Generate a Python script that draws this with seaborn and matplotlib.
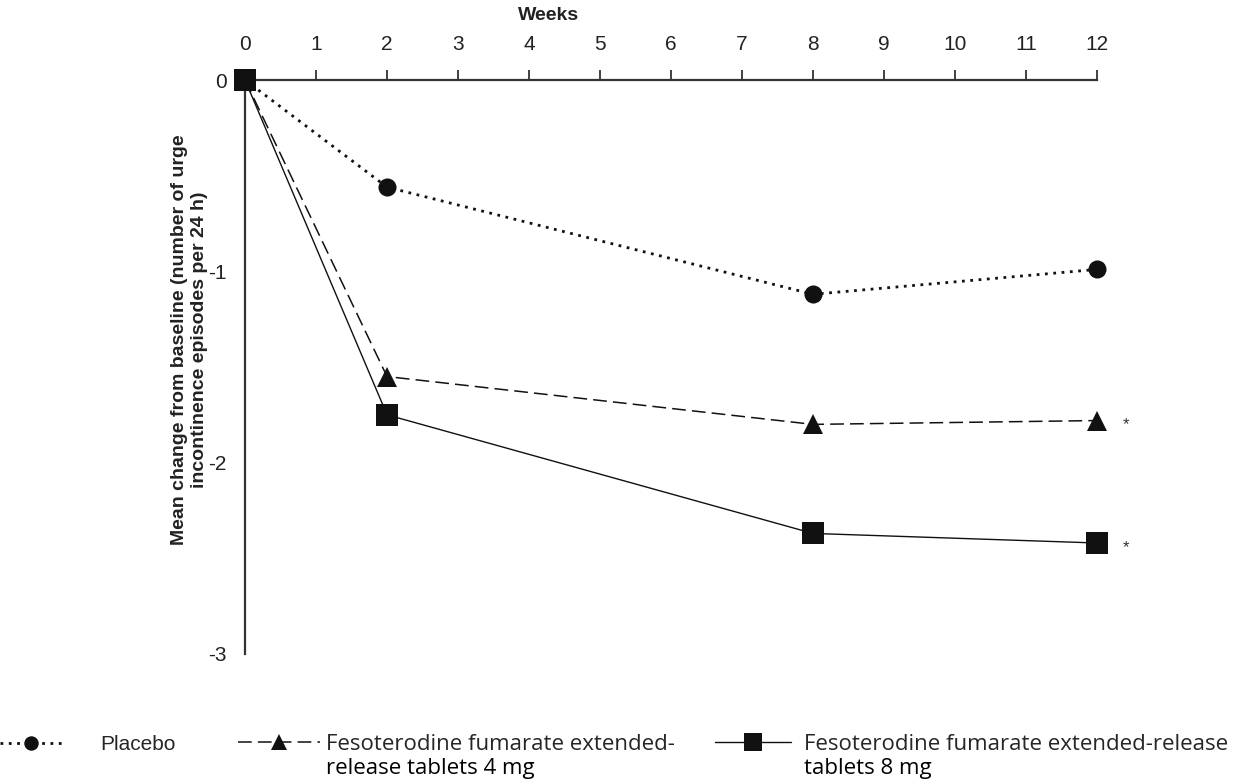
import pandas as pd
import matplotlib.pyplot as plt
import seaborn as sns

weeks = [0, 2, 8, 12]
placebo = [0, -0.56, -1.12, -0.99]
feso_4mg = [0, -1.55, -1.80, -1.78]
feso_8mg = [0, -1.75, -2.37, -2.42]

groups = ['Placebo', 'Fesoterodine 4 mg', 'Fesoterodine 8 mg']
legend_lines = [
    ('Placebo', ''),
    ('Fesoterodine fumarate extended-', 'release tablets 4 mg'),
    ('Fesoterodine fumarate extended-release', 'tablets 8 mg'),
]
signif = ['', '*', '*']

df = pd.DataFrame({
    'Weeks': weeks * 3,
    'Change': placebo + feso_4mg + feso_8mg,
    'Group': [g for g in groups for _ in weeks],
})

sns.set_theme(style="white")
plt.rcParams['font.family'] = ['Liberation Sans', 'DejaVu Sans']

styles = {
    'Placebo': dict(marker='o', markersize=13, linestyle=(0, (1, 2)), linewidth=2.0, color='#111111'),
    'Fesoterodine 4 mg': dict(marker='^', markersize=14, linestyle=(0, (9, 4)), linewidth=1.1, color='#111111'),
    'Fesoterodine 8 mg': dict(marker='s', markersize=16, linestyle='-', linewidth=1.0, color='#111111'),
}

fig = plt.figure(figsize=(12.4, 7.79), dpi=100)
ax = fig.add_axes([0.1976, 0.1605, 0.6871, 0.7368])

for g in groups:
    sub = df[df['Group'] == g]
    sns.lineplot(data=sub, x='Weeks', y='Change', ax=ax, legend=False,
                 markeredgewidth=0, clip_on=False, zorder=3, **styles[g])

ax.set_xlim(0, 12)
ax.set_ylim(-3, 0)
ax.xaxis.tick_top()
ax.xaxis.set_label_position('top')
ax.set_xticks(range(0, 13))
ax.set_yticks([0, -1, -2, -3])
ax.set_yticklabels(['0', '-1', '-2', '-3'])

for s in ['right', 'bottom']:
    ax.spines[s].set_visible(False)
for s in ['top', 'left']:
    ax.spines[s].set_linewidth(1.6)
    ax.spines[s].set_color('#333333')

ax.tick_params(axis='both', which='major', direction='out', length=7, width=1.3,
               color='#333333', labelcolor='#222222', labelsize=15)
ax.tick_params(axis='x', pad=12)
ax.tick_params(axis='y', pad=6)

ax.set_xlabel('Weeks', fontsize=14, fontweight='bold', color='#222222')
ax.xaxis.set_label_coords(0.356, 1.105)
ax.set_ylabel('Mean change from baseline (number of urge\nincontinence episodes per 24 h)',
              fontsize=14, fontweight='bold', color='#222222', linespacing=1.2)
ax.yaxis.set_label_coords(-0.044, 0.547)

# significance marks after the last point
for g, mark in zip(groups, signif):
    if mark:
        sub = df[df['Group'] == g]
        ax.annotate(mark, xy=(sub['Weeks'].iloc[-1], sub['Change'].iloc[-1]),
                    xytext=(21, -3), textcoords='offset points', ha='center', va='center',
                    fontsize=12, color='#333333', annotation_clip=False)

# legend at the bottom, one block per series
legend_x = [0.0, 0.192, 0.577]
legend_y = [0.056, 0.058, 0.058]
handle_len = [3.0, 3.7, 3.4]
text_pad = [1.8, 0.25, 0.6]
font_size = [15, 16, 16]
lines = ax.get_lines()
fig.canvas.draw()
W, H = fig.bbox.width, fig.bbox.height
for i, (first, second) in enumerate(legend_lines):
    fam = ['Liberation Sans'] if i == 0 else ['Open Sans', 'DejaVu Sans']
    leg = fig.legend(handles=[lines[i]], labels=[first], loc='upper left',
                     bbox_to_anchor=(legend_x[i], legend_y[i]), frameon=False,
                     borderpad=0, borderaxespad=0, handlelength=handle_len[i],
                     handletextpad=text_pad[i], markerscale=0.8,
                     prop={'family': fam, 'size': font_size[i]})
    if second:
        fig.canvas.draw()
        bb = leg.get_texts()[0].get_window_extent()
        yc = (bb.y0 + bb.y1) / 2 - 24
        fig.text(bb.x0 / W, yc / H, second, ha='left', va='center',
                 family=fam, fontsize=font_size[i], color='black')

fig.savefig('out.png', dpi=100)
